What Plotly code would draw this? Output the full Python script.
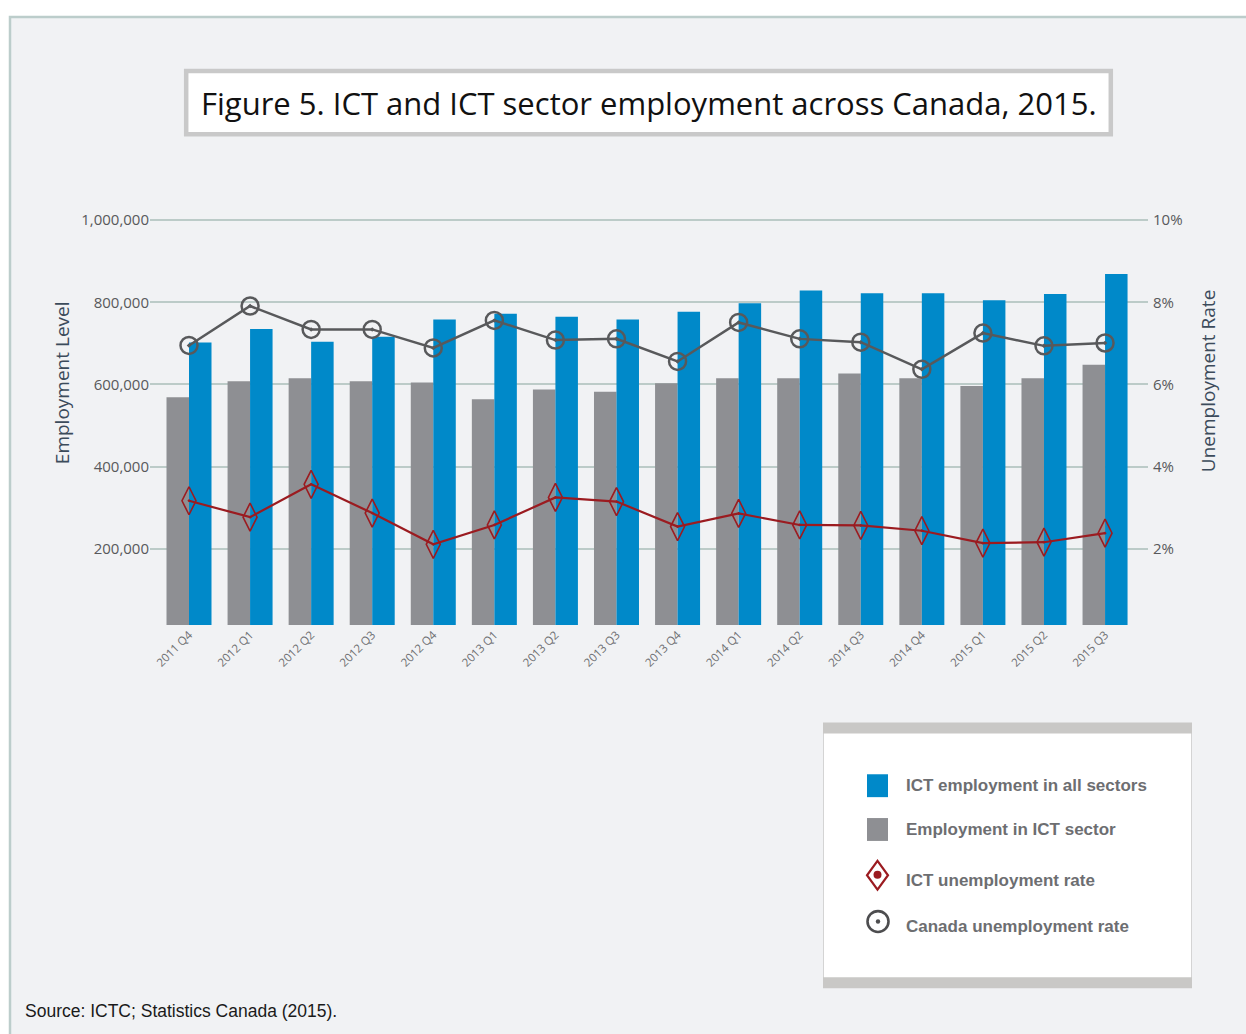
import plotly.graph_objects as go

W, H = 1246, 1034

# Quarterly data
quarters = ["2011 Q4", "2012 Q1", "2012 Q2", "2012 Q3", "2012 Q4", "2013 Q1", "2013 Q2", "2013 Q3",
            "2013 Q4", "2014 Q1", "2014 Q2", "2014 Q3", "2014 Q4", "2015 Q1", "2015 Q2", "2015 Q3"]
ict_sector_emp = [569000, 608000, 615000, 608000, 605000, 564000, 588000, 582000,
                  603000, 615000, 615000, 627000, 615000, 596000, 615000, 648000]
ict_all_sectors_emp = [702000, 735000, 704000, 716000, 758000, 772000, 765000, 758000,
                       777000, 798000, 829000, 822000, 822000, 805000, 820000, 869000]
ict_unemp_rate = [3.17, 2.77, 3.57, 2.87, 2.11, 2.58, 3.25, 3.15,
                  2.54, 2.86, 2.58, 2.57, 2.44, 2.14, 2.16, 2.38]
canada_unemp_rate = [6.95, 7.91, 7.34, 7.34, 6.89, 7.56, 7.08, 7.11,
                     6.56, 7.51, 7.11, 7.03, 6.37, 7.25, 6.94, 7.01]

emp_ticks = [200000, 400000, 600000, 800000, 1000000]
rate_ticks = [2, 4, 6, 8, 10]
rate_tick_labels = ["2%", "4%", "6%", "8%", "10%"]

BLUE = "#0089c9"
GRAY = "#8e8f93"
RED = "#9b1b20"
DARK = "#58595b"
GRID = "#bccbc8"
BG = "#f1f2f4"


def px(x):
    return x / W


def py(y):
    return 1 - y / H


# plot area in pixels
X0, X1 = 150, 1148
Y_TOP, Y_BOT = 210, 623


# value <-> pixel: y = 629 - 0.4128 * v/1000
def val_at(y):
    return (629 - y) / 0.4128 * 1000


emp_range = [val_at(Y_BOT), val_at(Y_TOP)]
rate_range = [emp_range[0] / 100000, emp_range[1] / 100000]

fig = go.Figure()

fig.add_trace(go.Bar(x=quarters, y=ict_sector_emp, name="Employment in ICT sector",
                     marker=dict(color=GRAY, line=dict(width=0)), showlegend=False))
fig.add_trace(go.Bar(x=quarters, y=ict_all_sectors_emp, name="ICT employment in all sectors",
                     marker=dict(color=BLUE, line=dict(width=0)), showlegend=False))

fig.add_trace(go.Scatter(x=quarters, y=canada_unemp_rate, yaxis="y2", mode="lines+markers",
                         name="Canada unemployment rate",
                         line=dict(color=DARK, width=2.5),
                         marker=dict(symbol="circle-open-dot", size=17, color=DARK,
                                     line=dict(color=DARK, width=2.5)),
                         showlegend=False))
fig.add_trace(go.Scatter(x=quarters, y=ict_unemp_rate, yaxis="y2", mode="lines+markers",
                         name="ICT unemployment rate",
                         line=dict(color=RED, width=2.2),
                         marker=dict(symbol="diamond-tall-open-dot", size=20, color=RED,
                                     line=dict(color=RED, width=1.6)),
                         showlegend=False))

shapes = [
    # page frame
    dict(type="rect", xref="paper", yref="paper", x0=px(10), x1=px(1270), y0=py(1060), y1=py(12),
         fillcolor=BG, line=dict(color="#bccdcb", width=2.5), layer="below"),
    # title box
    dict(type="rect", xref="paper", yref="paper", x0=px(186.2), x1=px(1110.8), y0=py(129.8), y1=py(66.2),
         fillcolor="white", line=dict(color="#c9c9c9", width=4.5), layer="below"),
    # legend box
    dict(type="rect", xref="paper", yref="paper", x0=px(823.5), x1=px(1191.5), y0=py(987), y1=py(722),
         fillcolor="white", line=dict(color="#d4d4d4", width=1), layer="below"),
    dict(type="rect", xref="paper", yref="paper", x0=px(823), x1=px(1192), y0=py(732), y1=py(721),
         fillcolor="#c9c8c6", line=dict(width=0), layer="below"),
    dict(type="rect", xref="paper", yref="paper", x0=px(823), x1=px(1192), y0=py(988), y1=py(977),
         fillcolor="#c9c8c6", line=dict(width=0), layer="below"),
    # legend icons
    dict(type="rect", xref="paper", yref="paper", x0=px(867), x1=px(888), y0=py(796), y1=py(773),
         fillcolor=BLUE, line=dict(width=0)),
    dict(type="rect", xref="paper", yref="paper", x0=px(867), x1=px(888), y0=py(840), y1=py(817),
         fillcolor=GRAY, line=dict(width=0)),
]


# diamond and ringed-dot legend icons (pixel paths converted to paper coordinates)
def path_px(points):
    return "M" + "L".join(f"{px(x):.5f},{py(y):.5f}" for x, y in points) + "Z"


shapes.append(dict(type="path", xref="paper", yref="paper",
                   path=path_px([(877.5, 860), (888, 874.5), (877.5, 889), (867, 874.5)]),
                   line=dict(color=RED, width=2.2), fillcolor="rgba(0,0,0,0)"))
shapes.append(dict(type="circle", xref="paper", yref="paper",
                   x0=px(873.5), x1=px(881.5), y0=py(878), y1=py(870),
                   fillcolor=RED, line=dict(width=0)))
shapes.append(dict(type="circle", xref="paper", yref="paper",
                   x0=px(867.5), x1=px(888.5), y0=py(931.5), y1=py(910.5),
                   fillcolor="rgba(0,0,0,0)", line=dict(color="#4d4d4f", width=2.6)))
shapes.append(dict(type="circle", xref="paper", yref="paper",
                   x0=px(875.8), x1=px(880.2), y0=py(923.2), y1=py(918.8),
                   fillcolor="#4d4d4f", line=dict(width=0)))

annotations = [
    dict(text="Figure 5. ICT and ICT sector employment across Canada, 2015.",
         x=px(648.5), y=py(98), xref="paper", yref="paper", showarrow=False,
         xanchor="center", yanchor="middle",
         font=dict(family="Open Sans", size=31, color="#111111")),
    dict(text="Employment Level", x=px(62), y=py(380), xref="paper", yref="paper",
         showarrow=False, textangle=-90, xanchor="center", yanchor="middle",
         font=dict(family="Open Sans", size=19, color="#3c4b5b")),
    dict(text="Unemployment Rate", x=px(1208), y=py(378), xref="paper", yref="paper",
         showarrow=False, textangle=-90, xanchor="center", yanchor="middle",
         font=dict(family="Open Sans", size=19, color="#3c4b5b")),
    dict(text="Source: ICTC; Statistics Canada (2015).", x=px(23), y=py(1011),
         xref="paper", yref="paper", showarrow=False, xanchor="left", yanchor="middle",
         font=dict(family="Liberation Sans", size=17.5, color="#1a1a1a")),
]

legend_items = [("ICT employment in all sectors", 784.5),
                ("Employment in ICT sector", 828.5),
                ("ICT unemployment rate", 880),
                ("Canada unemployment rate", 926)]
for label, yc in legend_items:
    annotations.append(dict(text=f"<b>{label}</b>", x=px(904), y=py(yc), xref="paper", yref="paper",
                            showarrow=False, xanchor="left", yanchor="middle",
                            font=dict(family="Liberation Sans", size=17, color="#6d6e71")))

cat_px = 61.07
fig.update_layout(
    width=W, height=H,
    margin=dict(l=0, r=0, t=0, b=0),
    paper_bgcolor="white",
    plot_bgcolor="rgba(0,0,0,0)",
    barmode="group",
    bargap=0.263,
    bargroupgap=0.0,
    xaxis=dict(domain=[px(X0), px(X1)],
               range=[-(189 - X0) / cat_px, -(189 - X0) / cat_px + (X1 - X0) / cat_px],
               tickangle=-45, showgrid=False, zeroline=False, showline=False, ticks="",
               tickfont=dict(family="Open Sans", size=11.5, color="#6d6e71")),
    yaxis=dict(domain=[py(Y_BOT), py(Y_TOP)], range=emp_range,
               tickvals=emp_ticks, tickformat=",", showgrid=True,
               gridcolor=GRID, gridwidth=2, zeroline=False, showline=False, ticks="",
               tickfont=dict(family="Open Sans", size=15, color="#58595b")),
    yaxis2=dict(overlaying="y", side="right", range=rate_range,
                tickmode="array", tickvals=rate_ticks, ticktext=rate_tick_labels,
                ticklabelstandoff=4,
                showgrid=False, zeroline=False, showline=False, ticks="",
                tickfont=dict(family="Open Sans", size=15, color="#58595b")),
    shapes=shapes,
    annotations=annotations,
    showlegend=False,
)

fig.write_html("out.html")
